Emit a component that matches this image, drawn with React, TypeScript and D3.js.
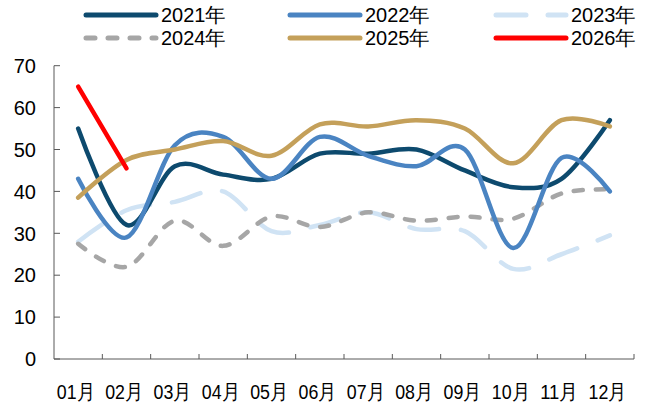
import React from "react";
import * as d3 from "d3";

const months = ["01月", "02月", "03月", "04月", "05月", "06月", "07月", "08月", "09月", "10月", "11月", "12月"];
const yTicks = [0, 10, 20, 30, 40, 50, 60, 70];

const s2021 = [55, 32, 46, 44, 43, 49, 49, 50, 45, 41, 43, 57];
const s2022 = [43, 29, 51, 53, 43, 53, 48.5, 46, 50, 26.5, 48, 40];
const s2023 = [28, 35.5, 37.5, 40, 30.5, 32, 35, 31, 30.5, 21.5, 25, 29.5];
const s2024 = [27.5, 22, 33, 27, 34, 31.5, 35, 33, 34, 33.5, 39.5, 40.5];
const s2025 = [38.5, 47.5, 50, 52, 48.5, 56, 55.5, 57, 55, 46.7, 57, 55.5];
const s2026 = [65, 45.5];

type Series = { name: string; values: number[]; color: string; dash?: string };

const series: Series[] = [
  { name: "2021年", values: s2021, color: "#0d4a6e" },
  { name: "2022年", values: s2022, color: "#4a84c2" },
  { name: "2023年", values: s2023, color: "#d0e3f4", dash: "30 22" },
  { name: "2024年", values: s2024, color: "#a6a6a6", dash: "9 13" },
  { name: "2025年", values: s2025, color: "#c4a05a" },
  { name: "2026年", values: s2026, color: "#ff0000" },
];

const drawOrder = ["2023年", "2024年", "2021年", "2022年", "2025年", "2026年"];

const W = 650, H = 405;
const left = 54, right = 634, top = 65.7, bottom = 359;
const font = "'Liberation Sans', Arial, sans-serif";

export default function App() {
  const x = d3.scaleBand<string>().domain(months).range([left, right]).padding(0);
  const y = d3.scaleLinear().domain([0, 70]).range([bottom, top]);
  const line = d3
    .line<number>()
    .x((_, i) => (x(months[i]) as number) + x.bandwidth() / 2)
    .y((d) => y(d))
    .curve(d3.curveCardinal.tension(0));

  const legendCols = [86, 290, 496];
  const legendRows = [15, 38];

  return (
    <svg width={W} height={H} style={{ position: "absolute", left: 0, top: 0, background: "#fff" }}>
      {/* axes */}
      <line x1={left} x2={left} y1={top} y2={bottom} stroke="#595959" strokeWidth={1} />
      <line x1={left} x2={right} y1={bottom} y2={bottom} stroke="#595959" strokeWidth={1} />
      {yTicks.map((t) => (
        <g key={t}>
          <line x1={left} x2={left + 6} y1={y(t)} y2={y(t)} stroke="#595959" />
          <text x={36} y={y(t)} dy="0.36em" textAnchor="end" fontFamily={font} fontSize={20} fill="#000">
            {t}
          </text>
        </g>
      ))}
      {months.map((m, i) => {
        const bx = x(m) as number;
        return (
          <g key={m}>
            <line x1={bx + x.bandwidth()} x2={bx + x.bandwidth()} y1={bottom} y2={bottom - 5} stroke="#595959" />
            <text
              x={bx + x.bandwidth() / 2 - 2.3}
              y={398.5}
              textAnchor="middle"
              fontFamily={font}
              fontSize={20.5}
              textLength={38}
              lengthAdjust="spacingAndGlyphs"
              fill="#000"
            >
              {m}
            </text>
          </g>
        );
      })}
      {/* series */}
      {drawOrder.map((n) => {
        const s = series.find((d) => d.name === n)!;
        return (
          <path
            key={n}
            d={line(s.values) || ""}
            fill="none"
            stroke={s.color}
            strokeWidth={4.5}
            strokeDasharray={s.dash}
            strokeLinecap="round"
            strokeLinejoin="round"
          />
        );
      })}
      {/* legend */}
      {series.map((s, i) => {
        const lx = legendCols[i % 3];
        const ly = legendRows[Math.floor(i / 3)];
        return (
          <g key={s.name}>
            <line
              x1={lx}
              x2={lx + 70}
              y1={ly}
              y2={ly}
              stroke={s.color}
              strokeWidth={5}
              strokeLinecap="round"
              strokeDasharray={s.dash}
            />
            <text x={lx + 75} y={ly} dy="0.36em" fontFamily={font} fontSize={19.5} textLength={65} lengthAdjust="spacingAndGlyphs" fill="#000">
              {s.name}
            </text>
          </g>
        );
      })}
    </svg>
  );
}
